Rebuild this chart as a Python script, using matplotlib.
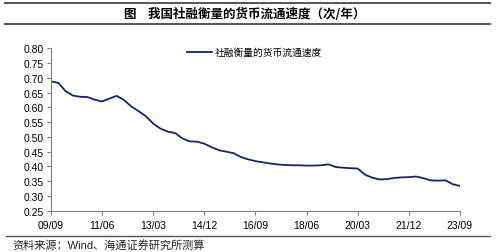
import matplotlib
matplotlib.use("Agg")
import matplotlib.pyplot as plt
from matplotlib.lines import Line2D

plt.rcParams['font.family'] = ['Liberation Sans', 'Noto Sans CJK SC', 'DejaVu Sans']

# quarterly money velocity (social financing basis), 2009Q3 .. 2023Q3
velocity = [0.688, 0.683, 0.655, 0.640, 0.636, 0.635, 0.626, 0.620, 0.630, 0.639,
            0.625, 0.603, 0.587, 0.570, 0.545, 0.528, 0.518, 0.513, 0.495, 0.485,
            0.484, 0.477, 0.465, 0.455, 0.450, 0.445, 0.432, 0.424, 0.418, 0.414,
            0.410, 0.407, 0.405, 0.404, 0.404, 0.403, 0.403, 0.404, 0.407, 0.398,
            0.396, 0.394, 0.393, 0.372, 0.362, 0.356, 0.357, 0.361, 0.363, 0.364,
            0.366, 0.360, 0.353, 0.352, 0.353, 0.340, 0.334]
tick_labels = ['09/09', '11/06', '13/03', '14/12', '16/09', '18/06', '20/03', '21/12', '23/09']
y_ticks = [0.25, 0.30, 0.35, 0.40, 0.45, 0.50, 0.55, 0.60, 0.65, 0.70, 0.75, 0.80]

cjk = ['Noto Sans CJK SC', 'DejaVu Sans']
grey = '#808080'

fig = plt.figure(figsize=(5, 2.53), dpi=100)
ax = fig.add_axes([0.102, 0.163, 0.818, 0.642])

x = list(range(len(velocity)))
ax.plot(x, velocity, color='#1F2068', lw=1.3, label='社融衡量的货币流通速度')

ax.set_xlim(0, len(velocity) - 1)
ax.set_ylim(0.25, 0.80)
ax.set_yticks(y_ticks)
ax.set_yticklabels([f'{v:.2f}' for v in y_ticks])
ax.set_xticks(range(0, len(velocity), 7))
ax.set_xticklabels(tick_labels)
ax.tick_params(labelsize=7.5, length=3, width=0.8, color=grey, pad=2)
ax.tick_params(axis='x', pad=4)
for s in ['top', 'right']:
    ax.spines[s].set_visible(False)
for s in ['left', 'bottom']:
    ax.spines[s].set_color(grey)
    ax.spines[s].set_linewidth(0.8)

leg = ax.legend(loc='upper left', bbox_to_anchor=(0.31, 1.06), frameon=False,
                prop={'family': cjk, 'size': 7}, handlelength=2.6, handletextpad=0.3)

# title bar and footer
fig.add_artist(Line2D([0.01, 0.98], [1 - 4 / 253, 1 - 4 / 253], color='#555555', lw=1.4))
fig.add_artist(Line2D([0.01, 0.98], [1 - 25 / 253, 1 - 25 / 253], color='#555555', lw=1.4))
fig.text(0.49, 1 - 14.5 / 253, '图    我国社融衡量的货币流通速度（次/年）', ha='center', va='center',
         family=cjk, fontsize=9, fontweight='bold')
fig.add_artist(Line2D([0.012, 0.98], [1 - 236.5 / 253, 1 - 236.5 / 253], color='#555555', lw=1.0))
fig.text(0.024, 1 - 245.5 / 253, '资料来源：Wind、海通证券研究所测算', ha='left', va='center',
         family=['Liberation Sans', 'Noto Sans CJK SC'], fontsize=8, color='#222222')

fig.savefig('out.png', dpi=100)
